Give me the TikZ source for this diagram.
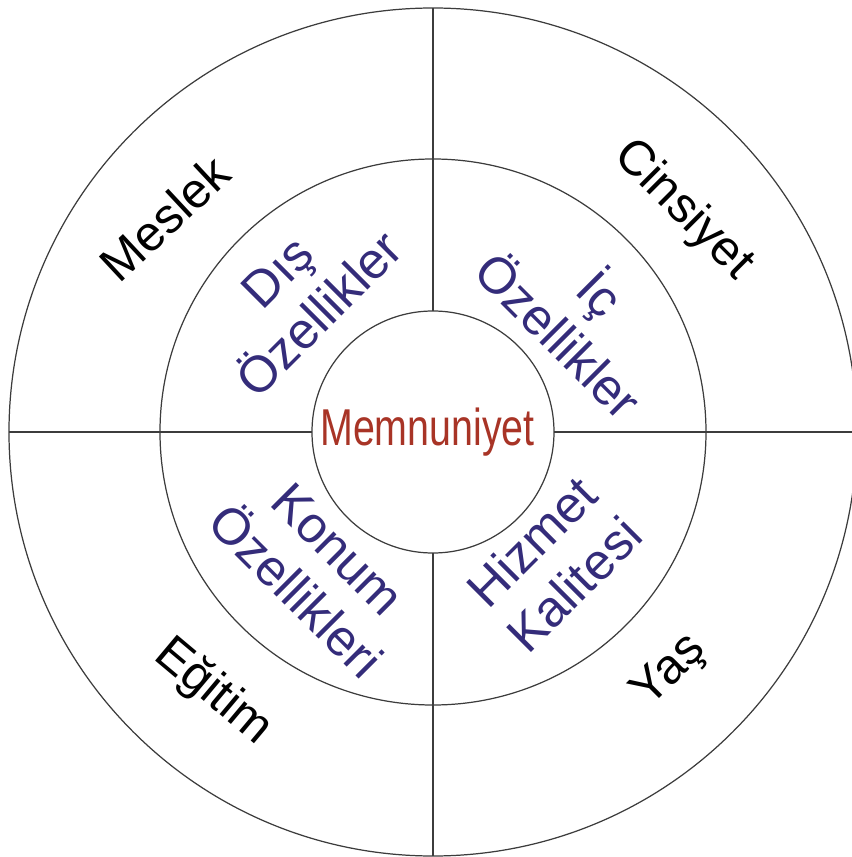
\documentclass[tikz,border=0pt]{standalone}
\usepackage{fontspec}
\setmainfont{Liberation Sans}
\definecolor{hatto}{RGB}{60,60,60}
\definecolor{mavi}{RGB}{52,44,122}
\definecolor{kiremit}{RGB}{168,52,38}
\begin{document}
\begin{tikzpicture}[
    cizgi/.style={draw=hatto, line width=0.7pt},
    dis/.style={text=black, font=\fontsize{28}{34}\selectfont, align=center},
    orta/.style={text=mavi, font=\fontsize{29}{34}\selectfont, align=center},
    merkez/.style={text=kiremit, font=\fontsize{29.5}{34}\selectfont, xscale=0.76}
  ]

    \useasboundingbox (-8.66,-8.5) rectangle (8.38,8.64);

    % --- Halkalar ---
    \draw[cizgi] (0,0) circle (8.48);
    \draw[cizgi] (0,0) circle (5.46);
    \draw[cizgi] (0,0) circle (2.42);

    % --- Bolme cizgileri (ic halkaya kadar) ---
    \coordinate (sol) at (-8.48,0);
    \coordinate (sag) at (8.48,0);
    \coordinate (ust) at (0,8.48);
    \coordinate (alt) at (0,-8.48);
    \draw[cizgi] (sol) -- (-2.42,0);
    \draw[cizgi] (2.42,0) -- (sag);
    \draw[cizgi] (ust) -- (0,2.42);
    \draw[cizgi] (0,-2.42) -- (alt);

    % --- Merkez ---
    \node[merkez, anchor=base] (memnun) at (-0.11,-0.26) {Memnuniyet};

    % --- Orta halka ---
    \node[orta, rotate=45] (dis1) at (-2.7,2.78) {Dış\\Özellikler};
    \node[orta, rotate=-45] (ic1) at (2.98,2.4) {İç\\Özellikler};
    \node[orta, rotate=-45] (konum) at (-2.32,-2.76) {Konum\\Özellikleri};
    \node[orta, rotate=45] (hizmet) at (2.4,-2.62) {Hizmet\\Kalitesi};

    % --- Dis halka ---
    \node[dis, rotate=43] (meslek) at (-5.36,4.28) {Meslek};
    \node[dis, rotate=-45] (cinsiyet) at (5.0,4.44) {Cinsiyet};
    \node[dis, rotate=-40] (egitim) at (-4.4,-5.2) {Eğitim};
    \node[dis, rotate=45] (yas) at (4.74,-4.8) {Yaş};

\end{tikzpicture}
\end{document}
